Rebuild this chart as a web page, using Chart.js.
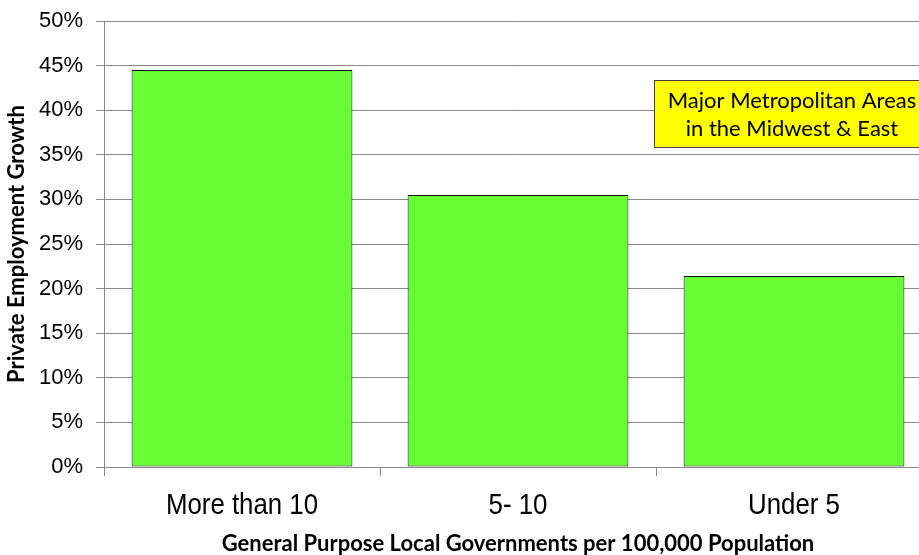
<!DOCTYPE html>
<html><head><meta charset="utf-8">
<script src="https://cdn.jsdelivr.net/npm/chart.js@4"></script>
<style>
html,body{margin:0;padding:0;overflow:hidden;background:#fff;width:919px;height:555px}
#wrap{width:932px;height:555px;position:relative}
</style></head>
<body><div id="wrap"><canvas id="c"></canvas></div>
<script>
const categories = ["More than 10", "5- 10", "Under 5"];
const growthValues = [44.5, 30.5, 21.4];
const yTickValues = [0,5,10,15,20,25,30,35,40,45,50];
const xTitle = "General Purpose Local Governments per 100,000 Population";
const yTitle = "Private Employment Growth";
const noteLines = ["Major Metropolitan Areas", "in the Midwest & East"];

const notePlugin = {
  id: 'note',
  afterDatasetsDraw(chart) {
    const ctx = chart.ctx;
    const x = 654.5, y = 80.5, w = 300, h = 67;
    ctx.save();
    ctx.fillStyle = '#FFFF00';
    ctx.fillRect(x, y, w, h);
    ctx.strokeStyle = '#444';
    ctx.lineWidth = 1;
    ctx.strokeRect(x, y, w, h);
    ctx.fillStyle = '#000';
    ctx.font = '22px Lato, "Open Sans", sans-serif';
    ctx.textAlign = 'center';
    ctx.textBaseline = 'middle';
    ctx.fillText(noteLines[0], 792, 101);
    ctx.fillText(noteLines[1], 792, 129);
    ctx.restore();
  },
  afterDraw(chart) {
    const ctx = chart.ctx, xs = chart.scales.x;
    ctx.save();
    ctx.fillStyle = '#000';
    ctx.font = '30px "Liberation Sans", Arial, sans-serif';
    ctx.textAlign = 'center';
    ctx.textBaseline = 'middle';
    categories.forEach((c, i) => {
      const px = xs.getPixelForValue(i);
      ctx.save();
      ctx.translate(px, 506);
      ctx.scale(0.86, 1);
      ctx.fillText(c, 0, 0);
      ctx.restore();
    });
    ctx.restore();
  }
};

new Chart(document.getElementById('c'), {
  type: 'bar',
  data: {
    labels: categories,
    datasets: [{
      data: growthValues,
      backgroundColor: '#66FF33',
      borderColor: '#111',
      borderWidth: 1,
      borderSkipped: false,
      barPercentage: 0.8,
      categoryPercentage: 1.0
    }]
  },
  options: {
    responsive: true,
    maintainAspectRatio: false,
    animation: false,
    layout: { padding: { top: 0, right: 0, left: 0, bottom: 0 } },
    plugins: { legend: { display: false }, tooltip: { enabled: false } },
    scales: {
      x: {
        offset: true,
        afterFit(s) { s.height = 88; },
        grid: { offset: true, drawOnChartArea: false, color: '#888', tickLength: 9, tickWidth: 1 },
        border: { color: '#888', width: 1 },
        ticks: { color: 'rgba(0,0,0,0)', font: { size: 26 }, padding: 6 },
        title: { display: true, text: xTitle, color: '#000', font: { family: 'Lato, "Open Sans", sans-serif', size: 22, weight: 'bold', lineHeight: 1 }, padding: { top: 0, bottom: 0 } }
      },
      y: {
        min: 0, max: 50,
        afterFit(s) { s.width = 104; s.paddingTop = 21; s.paddingBottom = 0; },
        afterBuildTicks(axis) { axis.ticks = yTickValues.map(v => ({ value: v })); },
        grid: { color: '#888', tickLength: 8, lineWidth: 1 },
        border: { color: '#888', width: 1 },
        ticks: { color: '#000', font: { family: '"Liberation Sans", Arial, sans-serif', size: 22 }, padding: 13, callback: v => v + '%' },
        title: { display: true, text: yTitle, color: '#000', font: { family: 'Lato, "Open Sans", sans-serif', size: 22, weight: 'bold', lineHeight: 1.2 }, padding: { top: 4, bottom: 0 } }
      }
    }
  },
  plugins: [notePlugin]
});
</script></body></html>
